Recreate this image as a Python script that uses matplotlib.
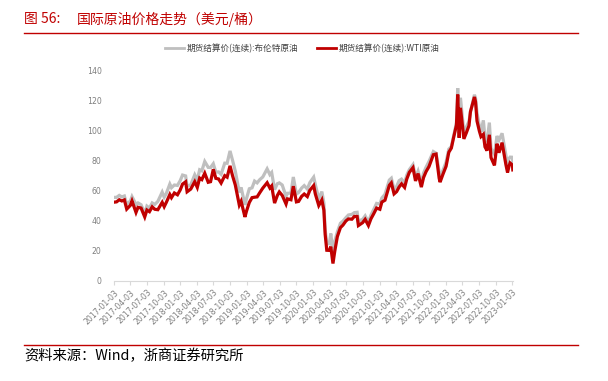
import matplotlib
matplotlib.use("Agg")
import matplotlib.pyplot as plt
import pandas as pd
from matplotlib.lines import Line2D

plt.rcParams['font.family'] = ['Noto Sans CJK SC', 'DejaVu Sans']

dates = [
    "2017-01-03", "2017-01-17", "2017-02-01", "2017-02-15", "2017-03-01", "2017-03-14",
    "2017-04-03", "2017-04-12", "2017-05-04", "2017-05-15", "2017-06-01", "2017-06-21",
    "2017-07-03", "2017-07-17", "2017-08-01", "2017-08-15", "2017-09-01", "2017-09-25",
    "2017-10-06", "2017-10-17", "2017-11-06", "2017-11-15", "2017-12-01", "2017-12-18",
    "2018-01-02", "2018-01-15", "2018-02-01", "2018-02-09", "2018-03-01", "2018-03-23",
    "2018-04-06", "2018-04-19", "2018-05-01", "2018-05-17", "2018-06-05", "2018-06-18",
    "2018-07-03", "2018-07-17", "2018-08-01", "2018-08-15", "2018-09-04", "2018-09-17",
    "2018-10-03", "2018-10-17", "2018-11-01", "2018-11-23", "2018-12-03", "2018-12-24",
    "2019-01-02", "2019-01-17", "2019-02-01", "2019-02-15", "2019-03-01", "2019-03-15",
    "2019-04-01", "2019-04-25", "2019-05-10", "2019-05-20", "2019-06-05", "2019-06-20",
    "2019-07-01", "2019-07-17", "2019-08-07", "2019-08-15", "2019-09-03", "2019-09-16",
    "2019-10-03", "2019-10-15", "2019-11-01", "2019-11-15", "2019-12-02", "2019-12-16",
    "2020-01-06", "2020-01-15", "2020-02-03", "2020-02-20", "2020-03-02", "2020-03-09",
    "2020-03-18", "2020-04-01", "2020-04-09", "2020-04-21", "2020-05-01", "2020-05-15",
    "2020-06-01", "2020-06-15", "2020-07-01", "2020-07-15", "2020-08-03", "2020-08-17",
    "2020-09-01", "2020-09-08", "2020-10-01", "2020-10-15", "2020-11-02", "2020-11-16",
    "2020-12-01", "2020-12-17", "2021-01-04", "2021-01-15", "2021-02-01", "2021-02-25",
    "2021-03-08", "2021-03-23", "2021-04-06", "2021-04-20", "2021-05-03", "2021-05-20",
    "2021-06-01", "2021-06-15", "2021-07-05", "2021-07-19", "2021-08-02", "2021-08-20",
    "2021-09-01", "2021-09-15", "2021-10-01", "2021-10-25", "2021-11-09", "2021-11-26",
    "2021-12-01", "2021-12-17", "2022-01-03", "2022-01-18", "2022-02-01", "2022-02-14",
    "2022-03-01", "2022-03-08", "2022-03-16", "2022-03-23", "2022-04-11", "2022-04-25",
    "2022-05-09", "2022-05-17", "2022-06-08", "2022-06-14", "2022-06-22", "2022-07-05",
    "2022-07-14", "2022-07-27", "2022-08-05", "2022-08-16", "2022-08-29", "2022-09-07",
    "2022-09-26", "2022-10-10", "2022-10-21", "2022-11-07", "2022-11-28", "2022-12-07",
    "2022-12-15", "2022-12-21", "2023-01-03", "2023-01-05",
]

brent = [
    55.5, 55.5, 56.8, 55.8, 56.4, 50.9,
    53.1, 56.0, 50.8, 51.8, 50.6, 44.8,
    49.7, 48.4, 51.8, 50.8, 52.8, 59.0,
    55.6, 57.9, 64.3, 61.9, 63.7, 63.4,
    66.6, 70.3, 69.7, 62.8, 63.8, 70.5,
    67.1, 73.8, 73.1, 79.3, 75.4, 75.3,
    77.8, 72.2, 72.4, 70.8, 78.2, 78.1,
    86.3, 80.0, 72.9, 58.8, 62.1, 50.5,
    54.9, 61.2, 61.8, 66.3, 65.1, 67.2,
    69.0, 74.4, 70.6, 72.0, 60.6, 64.5,
    65.1, 63.7, 56.2, 58.2, 58.3, 69.0,
    57.7, 58.7, 61.7, 63.3, 61.0, 65.3,
    68.9, 64.0, 54.5, 59.3, 51.9, 34.4,
    24.9, 24.7, 31.5, 19.3, 26.4, 32.5,
    38.3, 39.7, 42.0, 43.8, 44.2, 45.4,
    45.6, 39.8, 40.9, 43.2, 39.0, 43.8,
    47.4, 51.5, 51.1, 55.1, 57.5, 67.0,
    68.2, 60.8, 62.7, 66.6, 67.6, 65.1,
    70.3, 73.9, 77.2, 68.6, 72.9, 65.2,
    71.6, 75.5, 79.3, 85.9, 84.8, 72.7,
    68.9, 73.5, 78.9, 87.5, 89.2, 96.5,
    105.0, 128.0, 98.0, 121.6, 98.5, 102.3,
    105.9, 111.9, 123.6, 121.2, 111.7, 102.8,
    99.1, 106.6, 94.9, 92.3, 105.1, 88.0,
    84.1, 96.2, 93.5, 98.0, 83.2, 77.2,
    81.2, 82.2, 82.1, 78.7,
]

wti = [
    52.3, 52.5, 53.9, 53.1, 53.8, 47.7,
    50.2, 53.1, 45.5, 48.9, 48.4, 42.5,
    47.1, 46.0, 49.2, 47.6, 47.3, 52.2,
    49.3, 52.0, 57.4, 55.3, 58.4, 57.2,
    60.4, 64.3, 65.8, 59.2, 61.0, 65.9,
    62.1, 68.3, 67.3, 71.5, 65.5, 65.9,
    74.1, 68.1, 67.7, 65.0, 69.9, 68.9,
    76.4, 69.8, 63.7, 50.4, 52.9, 42.5,
    46.5, 52.1, 55.3, 55.6, 55.8, 58.5,
    61.6, 65.2, 61.7, 63.1, 51.7, 56.7,
    59.1, 56.8, 51.1, 54.5, 53.9, 62.9,
    52.5, 52.8, 56.2, 57.7, 56.0, 60.2,
    63.3, 57.8, 50.1, 53.8, 47.0, 31.1,
    20.4, 20.3, 22.8, 11.6, 19.8, 29.4,
    35.4, 37.1, 39.8, 41.2, 41.0, 42.9,
    42.8, 36.8, 38.7, 40.9, 36.8, 41.3,
    44.6, 48.4, 47.6, 52.4, 53.6, 63.5,
    65.1, 57.8, 59.3, 62.4, 64.5, 62.1,
    67.7, 72.1, 75.2, 66.4, 71.3, 62.3,
    68.6, 72.6, 75.9, 83.8, 84.2, 68.2,
    65.6, 70.9, 76.1, 85.4, 88.2, 95.5,
    103.4, 123.7, 95.0, 114.9, 94.3, 98.5,
    103.1, 112.4, 122.1, 118.9, 106.2, 99.5,
    95.8, 97.3, 89.0, 86.5, 97.0, 81.9,
    76.7, 91.1, 85.1, 91.8, 77.2, 72.0,
    76.1, 78.3, 76.9, 73.7,
]

series_names = ["期货结算价(连续):布伦特原油", "期货结算价(连续):WTI原油"]
y_ticks = [0, 20, 40, 60, 80, 100, 120, 140]
x_tick_labels = pd.date_range("2017-01-03", "2023-01-03", freq=pd.DateOffset(months=3))

GREY = "#BFBFBF"
RED = "#C00000"

fig = plt.figure(figsize=(6.08, 3.81), dpi=100)
ax = fig.add_axes([114/608, 1-281/381, (513-114)/608, (281-70)/381])

d = pd.to_datetime(dates)
ax.plot(d, brent, color=GREY, lw=2.3, solid_joinstyle='miter')
ax.plot(d, wti, color=RED, lw=2.3, solid_joinstyle='miter')

ax.set_ylim(0, 140)
ax.set_yticks(y_ticks)
ax.set_xlim(pd.Timestamp("2017-01-03"), pd.Timestamp("2023-01-06"))
ax.set_xticks(x_tick_labels)
ax.set_xticklabels([t.strftime("%Y-%m-%d") for t in x_tick_labels], rotation=45,
                   ha='right', rotation_mode='anchor', fontsize=5.6, color='#7F7F7F',
                   family=['DejaVu Sans'])
for lab in ax.get_yticklabels():
    lab.set_fontsize(5.6)
    lab.set_color('#7F7F7F')
    lab.set_family(['DejaVu Sans'])
ax.tick_params(axis='y', length=0, pad=9)
ax.tick_params(axis='x', length=3, color='#D9D9D9', width=0.8, pad=2)
for s in ['top', 'right', 'left']:
    ax.spines[s].set_visible(False)
ax.spines['bottom'].set_color('#D9D9D9')
ax.spines['bottom'].set_linewidth(0.8)

handles = [Line2D([], [], color=GREY, lw=2), Line2D([], [], color=RED, lw=2)]
fig.legend(handles, series_names, loc='center', bbox_to_anchor=(302/608, 1-48/381),
           ncol=2, frameon=False, fontsize=6.2, handlelength=2.2, handletextpad=0.3,
           columnspacing=2.2, labelcolor='#404040')

# title and rules
fig.text(24/608, 1-19/381, "图 56:", fontsize=10, color='#C00000', va='center', ha='left')
fig.text(77/608, 1-19/381, "国际原油价格走势（美元/桶）", fontsize=10, color='#C00000',
         va='center', ha='left')
fig.add_artist(Line2D([24/608, 578/608], [1-33/381, 1-33/381], color='#C00000', lw=1.0))
fig.add_artist(Line2D([24/608, 578/608], [1-345/381, 1-345/381], color='#C00000', lw=1.0))
fig.text(24/608, 1-356/381, "资料来源：Wind，浙商证券研究所", fontsize=10.3, color='black',
         va='center', ha='left')

fig.savefig("out.png", dpi=100)
